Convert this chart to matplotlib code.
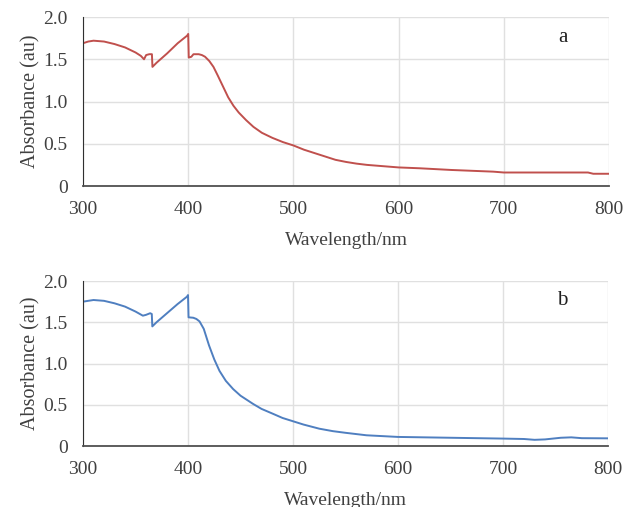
import matplotlib
matplotlib.use('Agg')
import matplotlib.pyplot as plt

# spectrum a (red)
wl_a = [300, 305, 310, 320, 330, 340, 350, 355, 358, 360, 363, 365.5, 366, 370, 380, 390, 399, 400,
        400.5, 403, 405, 410, 413, 416, 420, 424, 428, 433, 438, 443, 448, 455, 462, 470, 480, 490, 500,
        510, 520, 530, 540, 550, 560, 570, 580, 600, 620, 650, 670, 690, 700, 750, 780, 785, 800]
abs_a = [1.69, 1.71, 1.72, 1.71, 1.68, 1.64, 1.58, 1.54, 1.50, 1.55, 1.56, 1.56, 1.41, 1.46, 1.57, 1.69, 1.78, 1.80,
         1.52, 1.53, 1.56, 1.56, 1.55, 1.53, 1.48, 1.41, 1.31, 1.18, 1.05, 0.95, 0.87, 0.78, 0.70, 0.63, 0.57, 0.52, 0.48,
         0.43, 0.39, 0.35, 0.31, 0.285, 0.265, 0.25, 0.24, 0.22, 0.21, 0.19, 0.18, 0.17, 0.16, 0.16, 0.16, 0.145, 0.145]

# spectrum b (blue)
wl_b = [300, 310, 320, 330, 340, 350, 357, 360, 364, 365.5, 366, 370, 380, 390, 399, 400,
        400.5, 405, 408, 411, 415, 420, 425, 430, 436, 443, 450, 456, 462, 470, 481, 490, 500,
        510, 525, 538, 550, 570, 600, 650, 700, 720, 730, 740, 755, 765, 775, 800]
abs_b = [1.75, 1.77, 1.76, 1.73, 1.69, 1.63, 1.58, 1.59, 1.61, 1.60, 1.45, 1.50, 1.61, 1.72, 1.81, 1.83,
         1.56, 1.555, 1.54, 1.51, 1.42, 1.22, 1.05, 0.91, 0.79, 0.69, 0.61, 0.56, 0.51, 0.45, 0.39, 0.34, 0.30,
         0.26, 0.21, 0.18, 0.16, 0.13, 0.11, 0.10, 0.09, 0.085, 0.075, 0.08, 0.10, 0.105, 0.095, 0.093]

x_ticks = [300, 400, 500, 600, 700, 800]
y_ticks = [0, 0.5, 1.0, 1.5, 2.0]
y_labels = ['0', '0.5', '1.0', '1.5', '2.0']

plt.rcParams['font.family'] = ['Liberation Serif', 'DejaVu Serif']
text_col = '#404040'

fig = plt.figure(figsize=(6.26, 5.07), dpi=100)
ax1 = fig.add_axes([0.1326, 0.6331, 0.8403, 0.3333])
ax2 = fig.add_axes([0.1326, 0.1203, 0.8387, 0.3254])


def style_axis(ax, tag):
    ax.set_xlim(300, 800)
    ax.set_ylim(0, 2.0)
    ax.set_xticks(x_ticks)
    ax.set_yticks(y_ticks)
    ax.set_yticklabels(y_labels)
    ax.grid(True, color='#e0e0e0', linewidth=1.0)
    ax.set_axisbelow(True)
    for side in ['top', 'right']:
        ax.spines[side].set_visible(False)
    ax.spines['left'].set_color('#303030')
    ax.spines['bottom'].set_color('#505050')
    ax.spines['bottom'].set_linewidth(1.3)
    ax.tick_params(axis='both', length=0, labelsize=14, colors=text_col)
    ax.tick_params(axis='x', pad=11)
    ax.tick_params(axis='y', pad=11)
    ax.set_xlabel('Wavelength/nm', fontsize=14, color=text_col, labelpad=10)
    ax.set_ylabel('Absorbance (au)', fontsize=14.5, color=text_col, labelpad=2)
    ax.text(756, 1.76, tag, fontsize=15, color='#202020', ha='center', va='center')


ax1.plot(wl_a, abs_a, color='#c0504d', linewidth=1.4)
style_axis(ax1, 'a')
ax2.plot(wl_b, abs_b, color='#4f7fc0', linewidth=1.4)
style_axis(ax2, 'b')

fig.savefig('out.png', dpi=100)
